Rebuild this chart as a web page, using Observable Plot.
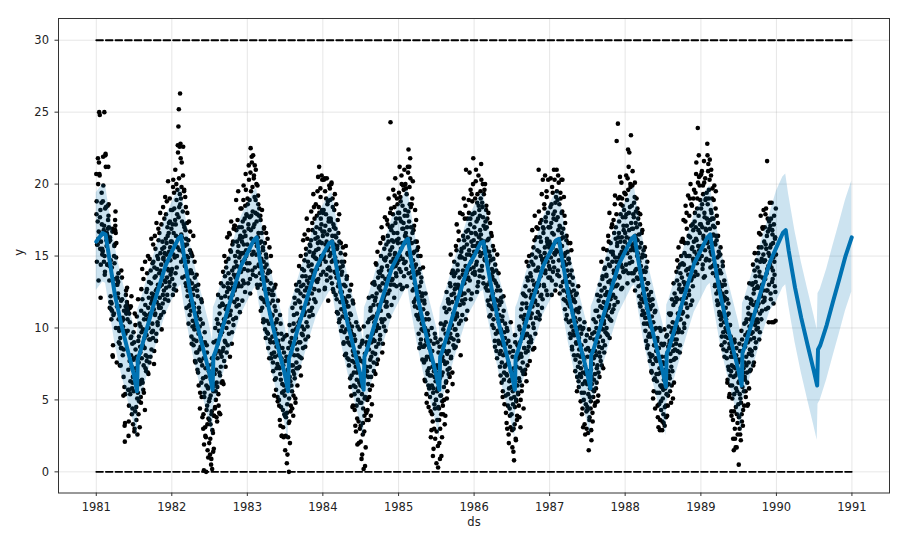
<!DOCTYPE html>
<html><head><meta charset="utf-8">
<script src="https://cdn.jsdelivr.net/npm/d3@7"></script>
<script src="https://cdn.jsdelivr.net/npm/@observablehq/plot@0.6"></script>
<style>body{margin:0;background:#fff}</style>
</head><body><div id="chart"></div>
<script>
// yYYYY = values on even days of the year, zYYYY = values on odd days.
const y1981 = [20.7,18.8,15.8,15.8,21.8,16.2,16.7,25.0,20.6,17.7,18.2,14.4,16.5,19.4,15.5,15.4,
18.8,19.9,16.8,17.1,15.0,13.9,22.0,21.2,16.6,15.7,16.5,14.4,16.9,21.2,
18.6,16.0,14.3,16.3,11.8,14.7,11.3,11.7,11.2,16.7,8.0,13.4,13.4,15.0,14.5,16.7,
17.5,18.1,10.0,15.9,7.6,13.5,13.3,12.4,13.8,9.0,9.8,8.9,9.9,9.9,8.6,
14.0,10.0,12.0,10.7,10.1,5.3,8.5,9.8,3.2,3.4,9.6,12.3,11.0,11.4,12.8,
10.6,11.2,7.1,3.5,11.0,7.7,11.4,6.3,11.5,9.4,7.3,5.8,4.4,6.6,7.8,
5.6,9.0,3.0,6.5,10.2,7.2,4.5,8.0,6.0,2.6,5.5,9.1,7.6,4.9,10.3,6.1,
8.3,5.2,11.2,9.7,6.4,12.0,8.8,5.7,7.4,10.6,9.3,4.3,11.6,8.1,7.0,
9.5,12.7,8.0,6.9,11.4,10.0,13.2,7.6,10.8,9.2,14.0,11.7,8.5,12.4,10.3,
12.1,9.8,14.6,11.3,8.4,13.5,10.9,15.5,12.6,9.6,11.8,14.1,10.4,13.0,16.9,11.6,
13.8,10.7,12.9,15.2,11.4,14.4,9.9,13.6,16.0,12.3,14.8,11.1,15.6,13.3,12.0,
14.6,16.2,12.8,15.9,13.5,17.0,14.1,11.9,16.6,15.3,13.2,17.4,14.7,16.0,13.9];
const z1981 = [17.9,14.6,15.8,17.4,20.0,13.3,21.5,20.7,24.8,15.5,12.1,16.0,18.7,17.2,15.1,15.3,
21.9,16.6,14.6,25.0,13.7,18.3,22.1,18.4,16.1,16.6,14.4,18.5,17.5,17.8,
17.0,13.3,11.4,16.1,12.2,11.8,10.6,14.2,16.9,8.1,8.8,10.9,11.0,15.7,15.8,16.8,
17.1,16.6,14.9,13.0,11.5,13.0,12.1,13.2,10.6,10.0,11.5,7.4,9.3,7.4,11.9,
8.6,13.5,10.5,8.1,10.6,6.6,11.2,5.9,2.1,5.4,11.5,12.6,11.2,11.8,11.6,
9.8,5.7,2.5,4.6,5.7,10.4,5.4,9.3,8.1,12.2,4.0,8.9,6.2,3.3,9.7,
7.9,2.8,11.0,4.2,8.5,6.9,3.6,10.8,5.1,7.7,12.0,4.0,9.4,6.3,3.1,8.7,
10.1,4.8,12.7,7.9,14.1,6.2,9.9,13.4,5.5,11.0,8.6,14.6,7.2,10.9,12.5,
7.7,13.8,10.6,15.0,6.8,12.1,9.2,14.8,11.0,8.0,13.1,16.2,9.7,11.9,14.5,
9.3,15.8,12.3,7.5,14.2,16.4,11.0,13.6,9.1,17.3,12.7,15.0,10.2,14.8,16.1,11.4,
16.6,12.1,18.0,14.0,10.9,17.2,13.0,15.5,11.7,18.4,14.9,12.6,17.6,15.2,19.1,
13.2,17.9,15.1,18.8,12.3,16.4,20.2,14.0,17.3,12.9,19.0,15.6,13.7,18.2,16.9];
const y1982 = [16.0,13.4,17.2,19.8,15.1,12.7,18.3,14.9,17.5,13.8,16.4,20.0,14.2,17.9,15.6,22.2,
24.0,25.2,18.4,22.6,26.3,22.8,19.0,16.5,21.5,17.4,15.3,20.6,14.8,17.2,
19.6,15.7,13.6,16.8,18.4,12.9,15.0,17.3,12.2,14.6,16.1,11.5,13.8,10.9,15.4,12.7,
14.0,11.2,9.4,13.1,15.0,10.5,12.3,8.8,11.7,9.9,13.5,10.2,7.6,11.0,9.1,
10.8,8.3,12.2,6.9,9.6,11.4,7.8,10.1,5.5,8.7,9.3,6.2,11.8,7.4,8.9,
6.5,4.0,0.1,5.2,9.7,3.1,7.2,2.4,6.0,8.8,4.6,1.5,5.8,3.7,7.0,
2.0,5.1,1.2,3.3,6.4,0.9,4.2,0.2,7.5,2.7,5.6,1.6,3.9,6.8,4.5,8.2,
5.0,9.1,6.2,3.5,7.9,10.3,5.4,8.4,4.1,11.0,6.7,9.5,7.3,12.1,8.0,
9.7,6.3,11.6,8.6,12.9,7.7,10.4,13.6,9.0,11.3,14.2,8.3,12.5,10.8,13.1,
11.5,14.8,9.6,12.7,16.5,10.9,13.4,15.3,11.9,8.9,14.0,12.3,16.0,10.2,13.7,17.1,
12.6,15.0,13.5,10.7,16.8,14.3,12.0,17.5,13.1,15.7,11.6,14.9,16.2,13.9,18.3,
15.2,12.9,17.0,14.6,16.3,13.3,18.9,15.8,14.1,17.6,12.5,16.4,19.6,15.0,17.8];
const z1982 = [14.1,18.2,12.3,20.3,16.6,19.4,13.0,15.8,21.0,17.2,12.6,18.9,15.0,19.6,22.7,16.3,
17.7,20.4,15.4,19.3,18.6,21.8,14.6,19.8,16.3,13.5,18.1,22.6,15.8,19.5,
17.0,14.3,19.1,13.1,16.2,11.4,15.8,18.0,12.6,14.9,10.3,17.4,13.3,11.6,16.7,14.0,
11.9,15.2,8.9,13.8,10.1,12.7,16.4,9.2,11.4,14.6,7.7,12.9,10.4,8.3,13.7,
12.6,7.1,9.9,13.0,6.0,11.1,8.5,4.4,10.6,7.7,12.0,5.2,9.0,3.8,10.3,
3.0,7.9,1.9,5.5,9.0,2.5,6.6,0.0,4.3,8.3,3.3,5.9,1.0,7.4,4.9,
3.6,6.8,2.3,5.3,0.5,4.0,7.9,2.9,5.9,1.4,9.0,3.9,6.1,4.4,10.0,5.6,
7.1,3.8,10.6,5.9,8.9,12.3,4.6,9.8,6.9,11.5,4.0,8.2,13.1,6.2,10.2,
11.7,8.4,13.9,6.1,10.6,15.0,9.1,12.2,7.3,14.6,10.0,11.5,16.3,8.8,12.8,
13.8,10.4,16.6,12.1,8.0,15.4,11.2,17.4,13.1,9.7,15.8,12.8,10.6,16.9,14.2,11.8,
17.1,12.8,14.6,18.9,11.5,16.0,13.7,15.3,19.5,12.9,17.0,14.2,11.1,16.4,15.1,
13.9,18.3,16.0,11.9,17.4,15.2,19.9,13.1,16.7,14.8,18.5,20.7,15.4,17.9,14.5];
const y1983 = [15.8,18.6,13.1,16.9,20.3,14.5,17.7,12.4,22.5,19.5,16.2,21.5,14.0,18.1,22.0,15.3,
20.6,17.2,21.3,16.0,18.9,13.6,20.0,15.7,17.9,12.8,19.2,16.6,14.3,18.3,
15.9,13.0,17.5,12.1,14.8,16.6,11.4,13.9,15.4,10.6,16.9,12.7,14.2,9.9,13.3,15.1,
12.0,14.4,9.7,11.6,13.8,8.6,12.7,10.3,15.6,9.2,11.0,13.1,7.9,10.8,12.3,
9.4,11.9,7.0,10.2,8.3,12.8,6.4,9.9,11.2,5.7,8.7,10.6,7.5,4.9,9.1,
7.3,5.0,8.6,3.6,6.8,10.3,4.5,7.9,2.5,6.1,9.2,3.1,5.6,8.3,4.0,
5.3,1.5,6.9,3.8,8.0,0.6,4.7,7.1,2.4,5.9,0.0,3.5,6.6,9.0,4.2,7.4,
6.0,8.8,4.4,9.8,7.0,5.3,10.9,8.1,6.5,11.7,4.8,9.3,7.6,12.6,8.5,
10.1,7.2,11.9,9.0,13.2,8.0,10.6,12.4,6.7,11.4,9.6,14.1,10.9,8.6,13.0,
12.2,9.9,14.7,11.1,8.7,13.6,15.5,10.4,12.8,16.2,11.7,9.4,14.3,13.1,10.8,15.8,
13.5,11.2,16.1,14.0,12.4,17.3,10.9,15.0,13.8,18.4,12.7,14.9,16.6,11.8,15.4,
14.8,17.8,13.2,16.3,20.5,15.5,12.6,18.0,14.4,16.9,19.1,13.7,17.2,15.9,20.3];
const z1983 = [19.0,14.0,17.2,21.3,15.4,18.9,13.4,20.8,16.8,17.8,21.9,15.1,19.8,13.7,17.0,20.4,
16.0,19.1,14.2,18.0,21.0,15.1,17.4,13.0,19.9,16.3,18.6,14.4,17.8,15.2,
13.8,17.8,11.2,16.0,13.4,18.2,12.0,15.6,10.4,14.6,17.0,11.8,15.9,13.5,9.3,16.6,
14.9,10.5,13.3,16.2,9.6,12.4,14.0,7.9,11.7,13.9,9.0,15.0,10.8,8.2,12.6,
10.9,7.6,12.3,9.0,5.3,11.5,8.0,13.0,6.5,10.4,7.2,9.6,5.2,11.9,8.1,
8.8,4.6,7.2,10.9,3.2,6.4,9.6,2.5,5.5,8.6,4.3,7.4,2.4,6.0,9.4,
3.9,7.7,2.5,5.7,9.5,4.1,1.2,6.4,8.6,3.4,5.1,10.2,2.0,6.3,4.6,8.3,
9.3,5.6,11.4,7.4,3.9,10.3,6.8,12.1,8.9,5.1,9.9,13.0,7.2,11.0,6.0,
8.1,12.6,10.4,14.3,7.3,11.8,9.0,15.0,12.9,7.9,10.1,13.6,9.5,16.1,11.3,
14.0,10.9,16.5,12.6,9.2,15.1,11.7,17.6,13.3,10.1,14.6,16.8,12.0,11.2,15.3,13.5,
15.7,12.9,18.1,14.4,11.4,16.8,13.6,19.3,15.2,12.0,17.6,14.0,16.2,18.6,13.3,
17.0,14.1,19.5,15.9,13.4,18.4,21.2,16.0,14.6,19.7,17.6,15.0,20.6,18.2,16.7];
const y1984 = [16.4,13.9,18.2,15.0,20.4,12.8,17.1,14.6,19.0,16.0,13.3,18.6,15.4,11.9,17.4,14.2,
16.8,19.7,14.0,17.6,15.2,20.1,13.1,16.4,18.4,14.7,12.5,17.0,15.8,19.3,
14.9,12.3,16.3,13.5,11.1,15.7,17.5,12.9,14.1,10.4,16.0,13.0,11.8,15.2,9.8,13.7,
12.5,10.1,14.3,11.3,8.9,13.0,9.7,12.0,15.1,10.7,8.2,11.8,13.6,9.3,10.6,
9.0,11.5,7.4,10.3,12.6,6.5,8.8,10.9,5.3,9.6,7.7,11.9,4.6,8.1,6.9,
7.6,4.3,9.2,5.9,2.8,8.0,6.4,3.7,10.1,5.0,7.1,2.0,6.2,8.7,4.8,
6.0,3.2,7.7,0.9,5.4,9.1,2.6,4.4,0.2,6.8,3.9,8.2,5.2,1.7,7.3,4.1,
7.0,5.0,9.4,6.1,3.6,8.5,10.6,5.7,7.8,11.4,6.6,9.0,4.7,12.2,8.3,
9.2,11.6,7.0,10.4,13.0,8.2,12.1,9.8,14.4,7.5,11.0,10.0,13.5,8.9,12.8,
11.4,13.8,9.5,12.6,15.0,10.6,14.2,8.3,13.1,16.3,11.9,10.1,15.5,12.3,14.7,9.8,
13.0,15.8,11.5,14.3,17.2,12.4,16.0,13.6,10.8,15.1,18.0,24.3,14.6,16.8,13.3,
15.6,13.4,17.9,14.8,16.6,12.1,19.2,15.2,17.3,13.8,13.6,16.1,14.5,18.6,15.9];
const z1984 = [18.0,14.8,20.3,16.7,12.7,19.5,15.8,17.9,13.7,20.4,16.5,14.1,18.8,15.6,17.6,19.9,
15.0,18.9,13.5,17.4,20.0,14.6,16.0,19.0,12.7,17.2,15.3,18.2,13.9,16.4,
16.9,13.8,18.6,12.0,15.5,14.6,11.0,16.6,13.1,17.9,10.6,14.2,12.5,15.9,11.3,14.6,
13.9,10.8,15.6,12.1,9.0,14.6,11.1,8.1,12.9,15.7,9.9,13.4,11.5,7.9,12.2,
10.6,7.8,12.2,8.9,11.0,5.9,9.8,13.0,6.7,10.1,4.5,8.4,11.7,6.0,9.5,
5.4,9.1,3.2,7.3,10.4,4.6,6.9,1.9,8.3,5.6,3.5,7.9,9.9,3.0,6.3,
2.1,6.4,4.8,8.9,1.2,5.9,3.4,7.6,10.1,2.8,5.1,0.4,6.7,4.2,9.0,3.6,
8.8,4.3,10.4,6.6,12.1,5.2,9.0,7.3,11.2,3.9,8.0,10.7,6.0,13.1,9.6,
10.8,7.6,13.2,9.1,11.9,6.8,14.5,8.7,12.4,10.2,15.3,7.8,11.6,13.9,10.0,
12.9,9.2,15.9,11.2,14.0,17.0,10.4,13.6,8.9,16.2,12.1,14.8,10.6,17.7,13.4,11.5,
14.9,11.8,17.5,13.2,16.4,10.9,19.0,14.0,12.6,17.0,15.4,13.0,18.3,11.6,16.1,
17.1,14.2,19.6,16.0,13.0,18.4,15.1,20.4,14.3,17.6,12.9,19.0,16.6,14.7,18.0];
const y1985 = [16.2,19.4,14.1,17.6,13.0,18.8,15.5,20.6,12.7,16.9,14.8,19.9,17.3,13.6,21.0,15.9,
18.2,14.6,19.7,16.3,12.9,17.8,15.1,20.8,22.4,16.0,21.2,18.6,21.8,14.9,
17.0,13.5,15.9,19.0,12.6,14.7,16.8,11.8,15.3,13.1,18.2,12.0,14.4,10.9,16.0,12.8,
13.9,11.4,15.0,9.6,12.5,10.7,14.1,8.9,11.9,13.2,9.9,12.2,7.8,10.5,11.3,
10.0,7.6,11.7,8.8,6.3,10.6,9.2,5.4,8.0,11.0,6.8,9.5,4.5,7.2,8.6,
6.7,9.1,4.2,7.8,2.9,6.0,8.4,3.5,5.5,1.6,7.0,4.7,9.6,2.3,6.3,
5.0,0.6,7.4,3.6,5.8,0.3,8.3,4.4,2.0,6.5,3.0,9.2,5.3,1.1,7.9,4.9,
6.9,4.0,8.8,5.9,10.2,3.3,7.5,9.6,6.2,11.1,5.1,8.2,7.1,12.0,9.0,
8.4,11.3,6.6,10.0,12.9,7.9,9.3,13.8,11.8,6.1,10.7,8.8,12.4,14.6,9.9,
10.6,13.0,8.7,12.1,15.4,11.0,9.5,14.0,12.8,16.7,10.3,13.5,11.6,15.0,8.1,12.5,
12.3,14.9,10.9,13.7,16.4,11.7,15.6,13.1,17.6,12.0,14.3,21.0,13.4,15.8,11.2,
14.0,16.8,12.6,18.0,15.1,13.3,17.2,19.6,14.6,16.0,12.4,18.8,15.7,20.0,14.2];
const z1985 = [14.7,18.0,21.2,15.0,19.1,13.9,17.4,20.0,15.9,18.5,12.8,16.9,19.6,14.5,17.8,16.4,
20.0,16.6,14.1,19.3,17.0,15.2,21.2,18.1,13.8,17.4,19.8,16.2,20.4,18.4,
14.3,18.6,13.9,16.6,20.2,15.2,12.7,17.1,14.2,11.5,16.0,13.7,17.5,12.1,15.4,10.8,
12.2,15.6,10.6,13.8,8.6,12.9,11.0,15.0,9.2,13.5,10.3,12.4,8.7,14.2,9.8,
8.7,11.9,6.4,10.0,12.4,7.8,9.1,4.8,11.0,7.0,9.8,6.0,10.6,5.8,8.0,
5.2,8.0,2.4,6.7,10.0,4.0,7.3,1.1,5.8,8.9,3.0,6.6,4.4,9.3,5.0,
7.2,2.8,5.6,9.0,1.8,4.5,6.9,3.6,8.7,0.9,5.3,10.3,4.0,6.7,2.4,8.0,
4.6,9.9,7.7,5.0,11.4,8.4,3.9,10.4,6.3,12.5,7.6,5.6,9.3,11.8,6.8,
11.7,7.2,13.1,9.6,15.1,8.0,12.3,10.2,6.9,14.0,11.0,9.2,13.6,8.6,12.7,
13.8,9.9,15.7,12.0,17.2,10.8,14.4,13.0,9.1,16.1,11.6,14.9,18.0,12.6,10.5,15.3,
15.5,11.9,17.9,14.0,13.2,19.0,16.1,12.4,14.8,18.5,10.6,16.7,13.8,15.1,17.6,
16.3,13.5,18.9,15.4,20.8,14.1,17.6,12.0,16.6,19.3,15.0,17.9,13.8,21.8,16.1];
const y1986 = [15.3,18.0,13.7,16.6,20.2,14.4,17.4,12.5,19.3,15.9,13.2,18.5,16.3,14.0,17.8,15.0,
19.0,21.4,16.1,14.3,18.4,20.0,13.5,17.1,15.6,19.6,14.7,16.9,12.8,18.2,
15.4,13.0,17.6,11.9,14.5,16.2,12.6,10.8,15.0,13.7,11.5,16.6,12.2,14.1,10.2,13.4,
12.4,14.8,10.0,11.7,13.3,8.7,12.0,9.6,14.0,10.9,7.9,11.3,12.9,9.1,10.4,
9.7,11.6,7.3,10.5,8.4,12.1,6.2,9.0,10.8,5.6,8.1,11.2,6.9,4.7,9.3,
7.4,5.3,8.9,3.4,6.7,9.8,4.6,7.6,2.6,5.8,8.3,3.9,6.4,10.4,5.1,
4.0,6.9,1.7,5.6,8.4,3.0,0.8,6.2,4.5,9.0,2.3,5.0,7.3,3.6,6.0,8.1,
5.4,8.7,6.5,3.8,9.9,7.2,5.0,10.8,8.0,6.0,11.7,7.6,9.3,4.4,12.3,
8.6,10.9,7.1,12.2,9.5,6.3,11.4,13.5,8.4,10.1,14.3,9.0,12.6,7.7,11.0,
10.7,13.6,9.2,12.3,15.1,11.5,8.5,14.4,10.0,13.0,16.1,11.8,9.6,14.9,12.8,17.0,
12.5,15.4,11.1,14.2,21.0,13.0,10.6,16.3,12.2,15.0,13.9,17.5,11.4,14.7,20.3,
14.5,16.9,12.9,18.3,15.6,13.8,17.7,14.9,19.5,16.2,12.3,15.8,20.3,17.0,14.3];
const z1986 = [17.0,13.9,19.0,15.7,21.0,16.5,14.6,18.7,12.9,17.6,20.6,15.3,18.2,13.6,16.8,19.5,
16.5,20.3,14.0,18.7,15.2,17.7,13.1,19.3,16.0,14.8,20.0,17.4,15.6,18.5,
17.0,12.6,16.1,14.4,18.0,11.6,15.3,13.2,17.3,10.9,14.7,12.0,16.4,13.6,11.3,15.7,
13.9,10.6,15.4,12.0,9.1,14.4,11.5,13.1,8.4,12.6,15.1,9.8,11.9,13.8,8.9,
10.9,8.2,12.6,6.7,9.9,11.8,7.6,10.5,5.2,8.8,12.2,6.4,9.7,7.3,10.3,
8.3,4.1,6.8,10.0,3.0,7.5,5.4,9.1,2.0,6.3,4.4,8.7,3.1,7.0,5.9,
6.4,2.9,8.0,4.7,1.4,7.2,5.2,3.3,9.5,6.1,2.2,4.9,7.8,3.9,8.8,5.5,
7.9,4.6,10.1,6.3,9.0,3.1,8.2,11.3,5.6,9.6,7.0,12.4,6.8,10.6,8.6,
10.3,6.8,12.9,8.3,11.7,14.6,9.6,7.4,13.3,10.8,8.7,15.0,11.4,9.4,13.8,
12.1,9.0,14.6,11.0,16.8,13.3,10.3,15.6,12.6,8.6,17.8,11.9,14.0,10.7,16.3,13.1,
14.0,11.6,16.9,12.9,18.1,15.3,10.9,17.3,13.6,16.0,12.3,19.3,14.8,12.0,17.0,
16.6,13.0,18.6,15.2,20.6,14.0,17.4,12.6,19.1,16.0,14.6,18.0,13.5,17.0,15.6];
const y1987 = [16.0,13.5,18.4,14.9,17.3,12.3,19.8,15.6,13.9,17.9,16.5,14.2,20.3,15.1,18.7,13.0,
17.5,21.0,15.3,18.9,14.0,16.8,20.1,13.6,17.1,15.8,19.4,12.9,16.2,18.0,
15.7,20.3,13.2,16.9,12.0,14.6,17.8,11.3,15.2,13.5,10.6,16.4,12.5,14.0,11.7,15.9,
12.7,10.4,14.5,11.5,13.7,9.3,12.2,15.4,10.1,8.5,13.0,11.0,9.8,12.6,10.7,
9.5,11.8,7.8,10.4,8.9,12.4,6.6,9.9,7.3,11.1,5.9,8.5,10.6,6.8,8.0,
7.2,9.6,5.5,8.2,4.4,6.9,10.0,5.0,7.8,3.3,6.3,9.1,4.7,7.0,3.0,
6.1,4.3,8.6,5.4,1.5,7.0,3.8,5.8,9.3,4.9,2.9,6.6,8.0,4.1,7.5,5.2,
7.9,5.6,9.7,6.8,4.8,10.4,8.1,6.2,11.2,7.4,9.0,5.3,11.9,8.7,6.6,
9.4,11.5,7.7,10.5,12.6,8.6,13.4,9.9,7.2,11.8,10.3,14.1,8.8,12.3,10.9,
11.2,13.7,9.6,12.5,14.8,10.8,13.2,16.0,11.6,9.3,14.3,12.0,15.3,10.5,13.0,17.2,
12.8,15.1,11.3,14.0,16.6,13.4,19.2,12.1,17.0,14.6,23.0,15.7,13.0,24.2,16.3,
14.9,17.4,13.5,20.5,16.0,18.6,12.7,15.3,19.0,14.2,17.7,13.9,16.8,18.2,15.5];
const z1987 = [14.1,17.0,20.4,15.8,18.6,13.3,16.6,19.4,14.6,17.6,21.0,15.2,18.1,12.6,16.0,19.1,
15.4,19.5,13.7,17.7,20.6,16.0,14.7,18.6,12.4,17.0,19.0,15.1,20.3,16.6,
18.1,14.3,16.3,12.6,19.1,15.0,13.3,17.3,11.9,14.4,16.1,10.9,13.6,15.3,12.2,14.8,
14.8,11.7,13.2,9.6,15.9,12.5,10.5,14.0,8.7,11.9,13.5,9.5,12.0,8.1,11.2,
10.7,7.0,12.3,9.0,11.3,5.6,10.0,8.1,12.9,6.3,9.3,11.4,7.6,10.1,4.9,
6.6,8.8,4.0,9.9,6.1,3.1,8.0,5.5,10.4,7.4,2.6,6.8,8.5,4.2,9.5,
4.5,8.0,2.7,6.9,9.9,3.6,5.2,8.4,4.4,7.1,2.2,6.1,9.6,3.5,5.7,10.6,
6.4,9.2,4.6,8.4,11.2,5.8,10.0,7.2,12.3,4.9,9.4,6.9,10.8,8.3,13.0,
8.0,12.2,10.0,14.6,7.4,11.4,13.6,9.1,15.5,10.5,8.3,12.8,14.2,9.7,11.7,
13.6,10.0,15.4,12.3,9.5,16.4,11.4,14.4,18.0,10.6,13.3,15.9,12.2,17.0,11.1,14.6,
15.3,12.3,17.5,13.8,11.6,18.6,14.9,16.2,12.9,17.9,14.2,15.9,11.8,19.0,14.6,
16.6,13.6,19.1,15.1,17.9,14.4,20.1,16.3,12.8,18.5,15.6,17.1,13.9,19.4,16.0];
const y1988 = [16.6,19.3,14.4,17.9,17.1,15.2,20.4,22.4,13.8,18.0,22.2,16.2,14.9,19.8,23.4,15.8,
18.5,14.6,20.9,16.9,13.3,17.7,15.4,19.1,12.6,16.4,18.1,14.1,17.0,15.0,
16.1,13.4,18.0,14.8,12.2,15.6,17.2,11.5,14.3,13.0,16.6,10.9,15.1,12.4,14.0,11.8,
13.4,11.0,15.0,9.8,12.7,14.2,10.3,8.6,13.1,11.6,9.4,12.3,10.7,8.2,11.9,
10.1,8.0,11.5,6.9,9.5,12.0,7.5,10.4,5.6,8.8,9.9,6.5,11.2,7.8,8.4,
7.7,5.5,9.3,3.8,6.8,8.6,4.7,7.2,2.9,6.0,9.8,4.3,5.9,8.0,3.5,
5.1,7.6,4.0,6.4,8.9,3.2,5.8,7.1,4.6,9.4,6.0,3.9,8.3,5.3,7.0,10.1,
6.7,9.1,5.6,8.2,11.0,7.3,6.0,10.0,8.8,5.1,11.6,7.8,9.6,12.4,8.5,
10.3,7.9,12.1,9.2,13.3,8.4,11.0,14.2,9.9,12.7,10.6,8.8,13.8,11.4,15.0,
12.0,9.7,14.5,11.1,16.0,13.2,10.3,15.2,12.6,17.4,11.7,14.0,18.0,13.1,10.8,15.9,
13.7,16.4,12.3,15.0,19.0,14.2,11.6,17.1,13.4,18.5,15.6,12.9,16.8,14.6,19.6,
15.3,18.0,13.9,17.0,20.7,16.1,14.5,19.0,23.9,15.7,17.8,20.5,14.8,16.6,18.9];
const z1988 = [17.7,14.0,20.6,16.3,18.9,13.1,15.8,19.6,21.2,16.8,14.5,18.4,20.0,15.4,17.3,13.8,
16.9,19.9,15.6,17.9,13.8,18.7,15.9,20.1,14.0,17.3,16.2,19.0,13.5,18.3,
15.2,17.6,12.9,16.5,14.6,11.7,17.9,13.8,15.9,12.0,14.9,16.8,11.2,13.9,15.4,10.3,
12.1,15.6,10.7,13.9,9.1,12.7,11.4,14.6,8.8,13.1,10.3,12.0,9.6,7.7,11.3,
9.4,12.5,7.0,10.8,8.1,11.6,5.1,9.9,6.4,8.8,11.1,4.4,7.9,10.0,6.8,
6.3,9.1,4.6,7.9,3.1,8.6,5.5,10.0,3.6,6.9,4.9,8.9,6.0,2.9,7.6,
8.8,5.7,3.4,7.5,9.9,4.5,6.7,8.0,3.8,5.4,9.5,7.0,4.6,8.7,6.1,11.0,
8.9,6.5,10.9,7.7,4.8,9.7,12.0,7.0,10.4,8.4,13.1,6.2,9.2,11.8,7.9,
11.8,8.9,13.9,10.1,14.7,12.0,9.7,15.6,11.0,13.0,8.3,14.4,10.6,12.5,16.0,
13.5,11.0,16.2,12.7,17.5,14.4,10.0,15.9,13.0,18.5,12.1,15.0,16.9,11.4,14.1,19.2,
15.0,12.6,17.8,14.1,16.3,20.0,13.3,18.6,15.5,11.9,17.2,14.8,19.0,16.0,13.6,
17.4,14.6,19.4,16.2,21.5,15.1,18.3,13.7,20.1,16.8,22.0,15.4,19.9,17.2,20.6];
const y1989 = [17.2,20.7,15.0,18.6,14.1,19.9,16.4,13.5,20.1,17.7,15.4,18.9,14.7,16.8,19.4,15.9,
22.0,17.3,21.4,19.0,15.6,20.3,16.9,14.2,18.2,21.0,15.1,17.6,19.7,13.8,
16.5,18.9,14.4,17.0,12.9,15.8,19.5,13.6,16.1,11.9,14.9,17.3,12.6,15.3,13.2,10.9,
14.0,11.7,15.6,10.2,13.0,9.4,12.4,14.6,10.8,8.5,11.9,13.3,9.0,12.1,10.0,
9.8,12.5,7.9,10.9,6.4,9.3,11.7,7.1,8.6,5.4,10.2,6.7,8.0,4.2,7.4,
6.0,8.5,3.6,7.3,1.5,5.4,9.0,2.3,6.7,4.5,8.1,1.7,5.6,3.4,7.8,
4.7,0.5,6.3,3.0,8.4,5.1,2.2,7.0,4.0,9.2,5.9,3.2,6.9,8.8,4.6,7.6,
6.4,9.5,5.2,8.0,10.6,6.9,4.6,9.0,11.4,7.6,5.8,10.1,8.5,12.0,7.1,
9.6,11.9,8.1,10.8,13.1,7.4,12.4,9.3,14.0,10.5,8.6,13.2,11.2,9.9,12.8,
11.5,14.2,10.0,12.8,15.6,9.2,13.6,11.0,16.5,12.3,10.6,14.8,13.0,17.0,11.8,15.1,
13.4,16.0,12.1,14.7,17.9,11.3,15.5,13.8,21.6,12.6,16.7,14.3,10.4,17.4,15.0,
14.4,17.1,12.0,15.8,18.7,13.2,16.5,14.0,14.9,10.4,17.8,13.7,16.2,12.5,18.3];
const z1989 = [18.3,15.7,20.9,17.0,14.4,19.3,16.2,21.6,18.0,13.6,20.4,16.9,19.0,14.8,17.6,22.8,
18.6,20.9,16.0,19.6,14.7,21.7,17.5,15.3,20.6,18.0,16.4,19.0,14.3,17.1,
17.6,14.8,19.9,15.9,13.0,18.3,16.4,12.4,17.8,14.3,11.6,16.4,13.8,15.0,11.1,14.0,
12.6,15.1,10.6,13.8,8.8,12.9,11.0,14.3,9.7,12.2,10.4,8.0,13.0,9.4,11.4,
10.6,8.4,12.0,6.2,9.7,7.3,11.0,5.2,8.9,10.2,6.0,9.4,7.0,3.9,8.3,
5.1,8.0,2.3,6.6,4.2,9.2,3.0,7.2,1.7,5.8,8.6,4.0,6.9,2.6,7.6,
6.2,3.8,8.9,5.4,2.6,7.8,4.8,9.8,3.5,6.7,8.4,4.3,7.2,5.6,10.3,6.6,
8.7,5.6,10.4,7.4,12.1,6.2,9.7,4.7,11.0,8.2,13.1,7.0,10.6,9.2,11.7,
10.9,8.4,13.0,9.7,14.4,11.6,7.6,12.7,15.2,10.2,13.6,9.0,11.8,14.7,10.6,
12.9,10.4,15.2,11.7,16.6,13.9,9.7,14.6,17.8,12.2,15.6,11.2,13.5,16.9,12.6,18.2,
14.6,11.9,17.0,13.4,15.8,18.3,12.6,16.4,14.1,17.6,11.4,15.2,13.0,16.9,18.7,
15.6,12.4,17.6,14.2,10.4,16.8,13.4,15.9,11.7,17.2,14.6,12.9,16.3,10.5,15.1];
const obsYears = [1981,1982,1983,1984,1985,1986,1987,1988,1989];
const obsEven = [y1981,y1982,y1983,y1984,y1985,y1986,y1987,y1988,y1989];
const obsOdd = [z1981,z1982,z1983,z1984,z1985,z1986,z1987,z1988,z1989];

// Forecast (yhat) and its uncertainty interval, read at fixed days of each year
const fcstYears = [1981,1982,1983,1984,1985,1986,1987,1988,1989,1990];
const fcstDoy = [0,31,45,59,90,120,151,181,197,201,212,243,273,304,334];
const fcstYhat = [
16.0,16.6,16.5,15.2,12.3,10.3,8.5,6.8,5.6,7.9,8.3,9.9,11.4,12.9,14.3,
15.3,16.2,16.4,15.0,12.4,10.4,8.6,6.9,5.7,8.0,8.4,9.9,11.4,12.9,14.3,
15.2,16.1,16.3,14.9,12.3,10.3,8.5,6.8,5.6,7.9,8.3,9.9,11.3,12.8,14.2,
15.1,15.9,16.0,14.8,12.3,10.3,8.5,6.8,5.7,8.0,8.4,9.9,11.4,12.8,14.2,
15.1,16.0,16.2,14.9,12.3,10.3,8.5,6.8,5.7,8.0,8.4,9.9,11.4,12.8,14.2,
15.0,15.9,16.0,14.8,12.3,10.3,8.5,6.8,5.7,8.0,8.4,10.0,11.5,12.9,14.3,
15.2,16.1,16.2,14.9,12.4,10.4,8.6,6.9,5.8,8.1,8.5,10.0,11.5,13.0,14.4,
15.3,16.2,16.4,15.1,12.5,10.5,8.7,7.0,5.9,8.2,8.6,10.1,11.6,13.1,14.5,
15.4,16.3,16.5,15.2,12.6,10.6,8.8,7.1,6.0,8.3,8.7,10.2,11.7,13.2,14.6,
15.6,16.6,16.8,15.4,12.8,10.7,8.8,7.0,6.0,8.5,8.8,10.2,11.8,13.4,15.0];
const fcstLower = [
12.6,13.2,13.1,11.8,8.9,6.9,5.1,3.4,2.2,4.5,4.9,6.5,8.0,9.5,10.9,
11.9,12.8,13.0,11.6,9.0,7.0,5.2,3.5,2.3,4.6,5.0,6.5,8.0,9.5,10.9,
11.8,12.7,12.9,11.5,8.9,6.9,5.1,3.4,2.2,4.5,4.9,6.5,7.9,9.4,10.8,
11.7,12.5,12.6,11.4,8.9,6.9,5.1,3.4,2.3,4.6,5.0,6.5,8.0,9.4,10.8,
11.7,12.6,12.8,11.5,8.9,6.9,5.1,3.4,2.3,4.6,5.0,6.5,8.0,9.4,10.8,
11.6,12.5,12.6,11.4,8.9,6.9,5.1,3.4,2.3,4.6,5.0,6.6,8.1,9.5,10.9,
11.8,12.7,12.8,11.5,9.0,7.0,5.2,3.5,2.4,4.7,5.1,6.6,8.1,9.6,11.0,
11.9,12.8,13.0,11.7,9.1,7.1,5.3,3.6,2.5,4.8,5.2,6.7,8.2,9.7,11.1,
12.0,12.9,13.1,11.8,9.2,7.2,5.4,3.7,2.6,4.9,5.3,6.8,8.3,9.8,11.2,
11.8,12.8,13.0,11.6,9.0,6.9,5.0,3.2,2.2,4.7,5.0,6.4,8.0,9.6,11.2];
const fcstUpper = [
19.4,20.0,19.9,18.6,15.7,13.7,11.9,10.2,9.0,11.3,11.7,13.3,14.8,16.3,17.7,
18.7,19.6,19.8,18.4,15.8,13.8,12.0,10.3,9.1,11.4,11.8,13.3,14.8,16.3,17.7,
18.6,19.5,19.7,18.3,15.7,13.7,11.9,10.2,9.0,11.3,11.7,13.3,14.7,16.2,17.6,
18.5,19.3,19.4,18.2,15.7,13.7,11.9,10.2,9.1,11.4,11.8,13.3,14.8,16.2,17.6,
18.5,19.4,19.6,18.3,15.7,13.7,11.9,10.2,9.1,11.4,11.8,13.3,14.8,16.2,17.6,
18.4,19.3,19.4,18.2,15.7,13.7,11.9,10.2,9.1,11.4,11.8,13.4,14.9,16.3,17.7,
18.6,19.5,19.6,18.3,15.8,13.8,12.0,10.3,9.2,11.5,11.9,13.4,14.9,16.4,17.8,
18.7,19.6,19.8,18.5,15.9,13.9,12.1,10.4,9.3,11.6,12.0,13.5,15.0,16.5,17.9,
18.8,19.7,19.9,18.6,16.0,14.0,12.2,10.5,9.4,11.7,12.1,13.6,15.1,16.6,18.0,
19.5,20.5,20.7,19.3,16.7,14.6,12.7,10.9,9.9,12.4,12.7,14.1,15.7,17.3,18.9];
const fcstEnd = {yhat: 16.3, lower: 12.5, upper: 20.2};

const capValue = 30;
const floorValue = 0;
const yTicks = [0,5,10,15,20,25,30];
const xTickYears = [1981,1982,1983,1984,1985,1986,1987,1988,1989,1990,1991];

const DAY = 864e5;
const obs = [];
obsYears.forEach((yr, k) => {
  const start = Date.UTC(yr, 0, 1);
  const nDays = (Date.UTC(yr + 1, 0, 1) - start) / DAY;
  [obsEven[k], obsOdd[k]].forEach((vals, part) => {
    vals.forEach((v, i) => {
      const d = Math.min(nDays - 1, Math.round(i * (nDays - 1) / vals.length) + part);
      obs.push({ds: new Date(start + d * DAY), y: v});
    });
  });
});
obs.sort((a, b) => a.ds - b.ds);
const fcst = [];
fcstYears.forEach((yr, k) => fcstDoy.forEach((d, j) => {
  const i = k * fcstDoy.length + j;
  fcst.push({ds: new Date(Date.UTC(yr, 0, 1) + d * DAY), yhat: fcstYhat[i], lo: fcstLower[i], hi: fcstUpper[i]});
}));
const lastDs = new Date(Date.UTC(1990, 11, 31));
const firstDs = new Date(Date.UTC(1981, 0, 1));
fcst.push({ds: lastDs, yhat: fcstEnd.yhat, lo: fcstEnd.lower, hi: fcstEnd.upper});

const capLine = [{ds: firstDs, v: capValue}, {ds: lastDs, v: capValue}];
const floorLine = [{ds: firstDs, v: floorValue}, {ds: lastDs, v: floorValue}];
const xTicks = xTickYears.map(y => new Date(Date.UTC(y, 0, 1)));
const pad = (lastDs - firstDs) * 0.05;
const xDomain = [new Date(+firstDs - pad), new Date(+lastDs + pad)];

const chart = Plot.plot({
  width: 915,
  height: 537,
  marginLeft: 58,
  marginRight: 26,
  marginTop: 18,
  marginBottom: 44.5,
  style: {fontFamily: "'DejaVu Sans', sans-serif", fontSize: "11.5px", color: "#222", background: "#fff"},
  x: {type: "utc", domain: xDomain},
  y: {domain: [-1.47, 31.51]},
  marks: [
    Plot.gridX(xTicks, {stroke: "#808080", strokeOpacity: 0.2, strokeWidth: 1}),
    Plot.gridY(yTicks, {stroke: "#808080", strokeOpacity: 0.2, strokeWidth: 1}),
    Plot.dot(obs, {x: "ds", y: "y", r: 2.3, fill: "#000", stroke: null}),
    Plot.line(fcst, {x: "ds", y: "yhat", stroke: "#0072B2", strokeWidth: 4}),
    Plot.line(capLine, {x: "ds", y: "v", stroke: "#000", strokeWidth: 1.8, strokeDasharray: "6.7,2.9"}),
    Plot.line(floorLine, {x: "ds", y: "v", stroke: "#000", strokeWidth: 1.8, strokeDasharray: "6.7,2.9"}),
    Plot.areaY(fcst, {x: "ds", y1: "lo", y2: "hi", fill: "#0072B2", fillOpacity: 0.2}),
    Plot.axisX(xTicks, {tickFormat: d3.utcFormat("%Y"), tickSize: 3.5, tickPadding: 6, label: null, stroke: "#333"}),
    Plot.axisY(yTicks, {tickSize: 3.5, tickPadding: 6, label: null, stroke: "#333"}),
    Plot.frame({stroke: "#333", strokeWidth: 1}),
    Plot.text(["ds"], {text: d => d, frameAnchor: "bottom", dy: 32.8, fill: "#222"}),
    Plot.text(["y"], {text: d => d, frameAnchor: "left", dx: -39.4, rotate: -90, fill: "#222"})
  ]
});
document.getElementById("chart").appendChild(chart);
</script>
</body></html>
